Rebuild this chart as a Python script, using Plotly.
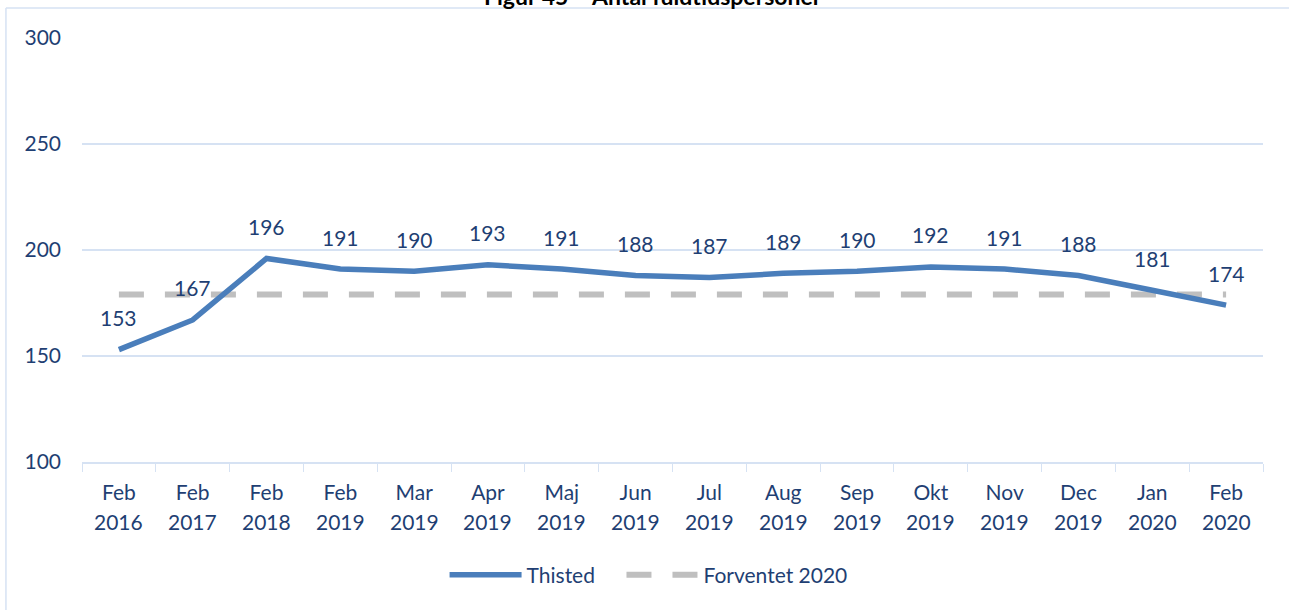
import plotly.graph_objects as go

months = ["Feb", "Feb", "Feb", "Feb", "Mar", "Apr", "Maj", "Jun", "Jul", "Aug", "Sep", "Okt", "Nov", "Dec", "Jan", "Feb"]
years = ["2016", "2017", "2018", "2019", "2019", "2019", "2019", "2019", "2019", "2019", "2019", "2019", "2019", "2019", "2020", "2020"]
thisted = [153, 167, 196, 191, 190, 193, 191, 188, 187, 189, 190, 192, 191, 188, 181, 174]
forventet = [179] * 16
series_names = ["Thisted", "Forventet 2020"]
title = "Figur 45 – Antal fuldtidspersoner"

cats = [f"{m} {y}" for m, y in zip(months, years)]

FONT = "Lato"
TXT = "#1f3f73"
GRID = "#d6e2f3"
FS = 21

fig = go.Figure()
fig.add_trace(go.Scatter(
    x=cats, y=forventet, mode="lines", name=series_names[1],
    line=dict(color="#bfbfbf", width=6, dash="25px,21px"),
    hoverinfo="skip"))
fig.add_trace(go.Scatter(
    x=cats, y=thisted, mode="lines", name=series_names[0] + "\u00a0" * 4,
    line=dict(color="#4a7ebb", width=5.5),
    hoverinfo="skip"))

# data labels
for c, v in zip(cats, thisted):
    fig.add_annotation(x=c, y=v, text=str(v), showarrow=False,
                       yshift=32, font=dict(family=FONT, size=FS, color=TXT))

# second row of category labels (years)
for c, yr in zip(cats, years):
    fig.add_annotation(x=c, xref="x", yref="paper", y=0, yshift=-59, yanchor="middle",
                       text=yr, showarrow=False, font=dict(family=FONT, size=FS, color=TXT))

# title (clipped at top as in the reference)
fig.add_annotation(xref="paper", yref="paper", x=0.4835, y=1.062, yanchor="bottom",
                   text=f"<b>{title}</b>", showarrow=False,
                   font=dict(family=FONT, size=23, color="#000000"))

# chart border
fig.add_shape(type="line", xref="paper", yref="paper", x0=-0.0644, x1=1.05, y0=1.0708, y1=1.0708,
              line=dict(color=GRID, width=1.5))
fig.add_shape(type="line", xref="paper", yref="paper", x0=-0.0644, x1=-0.0644, y0=1.0708, y1=-0.4,
              line=dict(color=GRID, width=1.5))

fig.update_layout(
    width=1289, height=610,
    margin=dict(l=82, r=26, t=38, b=148),
    paper_bgcolor="white", plot_bgcolor="white",
    font=dict(family=FONT, size=FS, color=TXT),
    showlegend=True,
    legend=dict(orientation="h", x=0.307, xanchor="left", y=-0.2665, yanchor="middle",
                traceorder="reversed", font=dict(family=FONT, size=FS, color=TXT),
                itemwidth=72),
    xaxis=dict(type="category", tickvals=cats, ticktext=months, tickson="boundaries",
               range=[-0.5, len(cats) - 0.5],
               ticks="outside", ticklen=8, tickcolor=GRID, showline=True, linecolor=GRID,
               linewidth=1.5, showgrid=False, ticklabelstandoff=11,
               tickfont=dict(family=FONT, size=FS, color=TXT)),
    yaxis=dict(range=[100, 300], tickvals=[100, 150, 200, 250, 300], showgrid=True,
               gridcolor=GRID, gridwidth=1.5, zeroline=False, showline=False,
               ticklabelstandoff=20, tickfont=dict(family=FONT, size=FS, color=TXT)),
)

fig.write_html("out.html", config={"displayModeBar": False},
               post_script="document.body.style.margin='0';")
